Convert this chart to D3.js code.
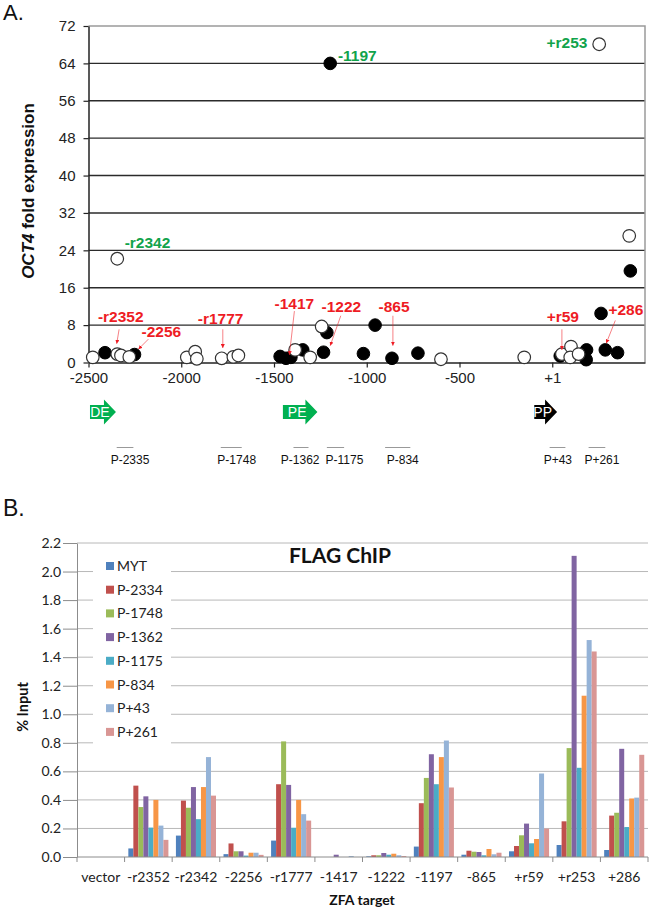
<!DOCTYPE html>
<html>
<head>
<meta charset="utf-8">
<script src="https://cdn.jsdelivr.net/npm/d3@7"></script>
<style>
  body { margin: 0; background: #fff; }
  svg { display: block; font-family: "Liberation Sans", Arial, sans-serif; }
</style>
</head>
<body>
<div id="chart"></div>
<script>
// ---------- panel A data (position vs OCT4 fold expression) ----------
const filledPoints = [
  [-2411, 2.1], [-2252, 1.7], [-1467, 1.3], [-1435, 0.9], [-1409, 1.1],
  [-1345, 2.7], [-1233, 2.2], [-1215, 6.4], [-1197, 64.0], [-1018, 1.9],
  [-955, 8.0], [-864, 0.9], [-724, 2.0], [43, 1.4], [165, 1.7],
  [185, 2.7], [183, 0.6], [263, 10.5], [286, 2.7], [352, 2.1], [421, 19.6]
];
const openPoints = [
  [-2477, 1.1], [-2345, 22.2], [-2345, 1.8], [-2325, 1.5], [-2280, 1.2],
  [-1970, 1.1], [-1925, 2.3], [-1916, 0.8], [-1782, 0.9], [-1719, 1.2],
  [-1692, 1.5], [-1386, 2.7], [-1305, 1.1], [-1243, 7.7], [-600, 0.7],
  [-151, 1.1], [52, 1.8], [101, 3.4], [97, 1.1], [142, 1.8],
  [253, 68.1], [415, 27.1]
];
const xTicksA = [-2500, -2000, -1500, -1000, -500, 0];
const xTickLabelsA = ['-2500', '-2000', '-1500', '-1000', '-500', '+1'];
const yTicksA = [0, 8, 16, 24, 32, 40, 48, 56, 64, 72];

// labels: text, x, baseline y (data units)
const greenLabels = [
  ['-1197', -1051, 64.5],
  ['+r253', 79, 67.3],
  ['-r2342', -2182, 24.5]
];
const redLabels = [
  ['-r2352', -2326, 8.7],
  ['-2256', -2107, 5.5],
  ['-r1777', -1788, 8.3],
  ['-1417', -1390, 11.5],
  ['-1222', -1137, 10.9],
  ['-865', -853, 10.9],
  ['+r59', 57, 8.75],
  ['+286', 397, 10.2]
];
// pointer arrows [x1, y1, x2, y2]
const labelArrows = [
  [-2335, 7.1, -2348, 4.0],
  [-2177, 5.0, -2231, 2.85],
  [-1776, 7.1, -1776, 3.1],
  [-1390, 11.0, -1417, 1.6],
  [-1140, 10.0, -1197, 3.6],
  [-859, 10.0, -859, 3.6],
  [52, 7.1, 52, 2.7],
  [340, 9.0, 291, 4.1]
];
const elementNames = ['DE', 'PE', 'PP'];
const elementStart = [-2492, -1452, -97];
const elementEnd = [-2352, -1266, 26];

const primerNames = ['P-2335', 'P-1748', 'P-1362', 'P-1175', 'P-834', 'P+43', 'P+261'];
const primerStart = [-2348, -1787, -1395, -1215, -901, -14, 196];
const primerEnd = [-2258, -1674, -1314, -1122, -765, 71, 286];
const primerLabelX = [-2276, -1701, -1359, -1120, -806, 30, 268];

// ---------- panel B data (FLAG ChIP, % input) ----------
const categories = ['vector', '-r2352', '-r2342', '-2256', '-r1777', '-1417', '-1222', '-1197', '-865', '+r59', '+r253', '+286'];
const seriesNames = ['MYT', 'P-2334', 'P-1748', 'P-1362', 'P-1175', 'P-834', 'P+43', 'P+261'];
const seriesColors = ['#4f81bd', '#c0504d', '#9bbb59', '#8064a2', '#4bacc6', '#f79646', '#95b3d7', '#d99694'];
const myt   = [0, 0.06, 0.15, 0.02, 0.115, 0, 0.005, 0.073, 0.016, 0.04, 0.084, 0.049];
const p2334 = [0, 0.50, 0.395, 0.095, 0.51, 0, 0.012, 0.377, 0.044, 0.077, 0.25, 0.29];
const p1748 = [0, 0.35, 0.345, 0.04, 0.81, 0, 0.012, 0.554, 0.037, 0.152, 0.763, 0.31];
const p1362 = [0, 0.425, 0.49, 0.04, 0.505, 0.016, 0.028, 0.72, 0.035, 0.234, 2.11, 0.758];
const p1175 = [0, 0.206, 0.265, 0.01, 0.205, 0, 0.016, 0.51, 0.012, 0.096, 0.625, 0.21];
const p834  = [0, 0.40, 0.49, 0.03, 0.40, 0, 0.023, 0.70, 0.056, 0.126, 1.13, 0.41];
const p43   = [0, 0.22, 0.70, 0.03, 0.30, 0.007, 0.012, 0.816, 0.019, 0.585, 1.52, 0.416];
const p261  = [0, 0.12, 0.43, 0.015, 0.255, 0, 0.007, 0.487, 0.03, 0.199, 1.44, 0.716];
const seriesValues = [myt, p2334, p1748, p1362, p1175, p834, p43, p261];
const yTicksB = d3.range(0, 2.21, 0.2);

const RED = '#ee1c24';
const GREEN = '#11a34b';
const CAL = 'Lato, "Open Sans", sans-serif';

const svg = d3.select('#chart').append('svg')
  .attr('width', 649)
  .attr('height', 908);

svg.append('defs').append('marker')
  .attr('id', 'ah')
  .attr('viewBox', '0 0 10 10')
  .attr('refX', 10).attr('refY', 5)
  .attr('markerWidth', 5).attr('markerHeight', 5)
  .attr('orient', 'auto')
  .append('path').attr('d', 'M0,0 L10,5 L0,10 z').attr('fill', RED);

// ================= PANEL A =================
const xA = d3.scaleLinear().domain([-2500, 500]).range([88.5, 645]);
const yA = d3.scaleLinear().domain([0, 72]).range([362.5, 26]);

svg.append('text').attr('x', 3).attr('y', 20)
  .attr('font-size', 22).attr('fill', '#111').text('A.');

const gA = svg.append('g');

gA.selectAll('line.grid')
  .data(yTicksA.filter(d => d > 0 && d < 72))
  .join('line')
  .attr('x1', xA(-2500)).attr('x2', xA(500))
  .attr('y1', d => yA(d)).attr('y2', d => yA(d))
  .attr('stroke', '#2b2b2b').attr('stroke-width', 1.4);

// top + right frame
gA.append('path')
  .attr('d', `M${xA(-2500)},${yA(72)}H${xA(500)}V${yA(0)}`)
  .attr('fill', 'none').attr('stroke', '#9a9a9a').attr('stroke-width', 1.5);

const yAxisA = gA.append('g')
  .attr('transform', `translate(${xA(-2500)},0)`)
  .call(d3.axisLeft(yA).tickValues(yTicksA).tickSize(5).tickSizeOuter(0).tickPadding(8));
const xAxisA = gA.append('g')
  .attr('transform', `translate(0,${yA(0)})`)
  .call(d3.axisBottom(xA).tickValues(xTicksA).tickFormat((d, i) => xTickLabelsA[i])
    .tickSize(5).tickSizeOuter(0).tickPadding(5));
[yAxisA, xAxisA].forEach(ax => {
  ax.select('.domain').attr('stroke', '#222').attr('stroke-width', 1.5);
  ax.selectAll('.tick line').attr('stroke', '#222').attr('stroke-width', 1.2);
  ax.selectAll('.tick text').attr('font-size', 15).attr('fill', '#222')
    .attr('font-family', '"Liberation Sans", Arial, sans-serif');
});

// y title
const yTitle = svg.append('text')
  .attr('transform', 'translate(34,191) rotate(-90)')
  .attr('text-anchor', 'middle')
  .attr('font-size', 17).attr('font-weight', 'bold').attr('fill', '#111');
yTitle.append('tspan').attr('font-style', 'italic').text('OCT4');
yTitle.append('tspan').text(' fold expression');

// points
gA.selectAll('circle.filled').data(filledPoints).join('circle')
  .attr('cx', d => xA(d[0])).attr('cy', d => yA(d[1])).attr('r', 6.3)
  .attr('fill', '#000').attr('stroke', '#000').attr('stroke-width', 1);
gA.selectAll('circle.open').data(openPoints).join('circle')
  .attr('cx', d => xA(d[0])).attr('cy', d => yA(d[1])).attr('r', 6.3)
  .attr('fill', '#fff').attr('stroke', '#333').attr('stroke-width', 1.2);

// labels
gA.selectAll('text.green').data(greenLabels).join('text')
  .attr('x', d => xA(d[1])).attr('y', d => yA(d[2]))
  .attr('text-anchor', 'middle').attr('font-size', 15.5).attr('font-weight', 'bold')
  .attr('fill', GREEN).text(d => d[0]);
gA.selectAll('text.red').data(redLabels).join('text')
  .attr('x', d => xA(d[1])).attr('y', d => yA(d[2]))
  .attr('text-anchor', 'middle').attr('font-size', 15.5).attr('font-weight', 'bold')
  .attr('fill', RED).text(d => d[0]);
gA.selectAll('line.ptr').data(labelArrows).join('line')
  .attr('x1', d => xA(d[0])).attr('y1', d => yA(d[1]))
  .attr('x2', d => xA(d[2])).attr('y2', d => yA(d[3]))
  .attr('stroke', RED).attr('stroke-width', 0.8).attr('stroke-opacity', 0.7)
  .attr('marker-end', 'url(#ah)');

// promoter / enhancer block arrows
const ARW_Y = 412, BODY_H = 7, HEAD_H = 12.5, HEAD_L = 12;
elementNames.forEach((name, i) => {
  const x0 = xA(elementStart[i]), x1 = xA(elementEnd[i]), xh = x1 - HEAD_L;
  const fill = name === 'PP' ? '#000' : '#00b050';
  svg.append('path')
    .attr('d', `M${x0},${ARW_Y - BODY_H}H${xh}V${ARW_Y - HEAD_H}L${x1},${ARW_Y}L${xh},${ARW_Y + HEAD_H}V${ARW_Y + BODY_H}H${x0}Z`)
    .attr('fill', fill);
  svg.append('text')
    .attr('x', (x0 + x1) / 2 - 3).attr('y', ARW_Y + 5)
    .attr('text-anchor', 'middle').attr('font-size', 14).attr('fill', '#fff')
    .text(name);
});

// primer amplicons
svg.selectAll('line.primer').data(primerNames).join('line')
  .attr('x1', (d, i) => xA(primerStart[i])).attr('x2', (d, i) => xA(primerEnd[i]))
  .attr('y1', 447.5).attr('y2', 447.5)
  .attr('stroke', '#999').attr('stroke-width', 1);
svg.selectAll('text.primer').data(primerNames).join('text')
  .attr('x', (d, i) => xA(primerLabelX[i])).attr('y', 463.5)
  .attr('text-anchor', 'middle').attr('font-size', 12).attr('fill', '#111')
  .text(d => d);

// ================= PANEL B =================
const xB = d3.scaleBand().domain(categories).range([77, 648]);
const xSub = d3.scaleBand().domain(seriesNames).range([0, xB.bandwidth()]).paddingOuter(0.75);
const yB = d3.scaleLinear().domain([0, 2.2]).range([857, 543]);

svg.append('text').attr('x', 3).attr('y', 516)
  .attr('font-size', 23).attr('fill', '#111').text('B.');

const gB = svg.append('g');

gB.selectAll('line.grid').data(yTicksB.slice(1)).join('line')
  .attr('x1', 77).attr('x2', 648)
  .attr('y1', d => yB(d)).attr('y2', d => yB(d))
  .attr('stroke', '#b8b8b8').attr('stroke-width', 1);

const yAxisB = gB.append('g').attr('transform', 'translate(77,0)')
  .call(d3.axisLeft(yB).tickValues(yTicksB).tickFormat(d3.format('.1f'))
    .tickSize(14).tickSizeOuter(0).tickPadding(2));
yAxisB.select('.domain').attr('stroke', '#8c8c8c');
yAxisB.selectAll('.tick line').attr('stroke', '#8c8c8c');
yAxisB.selectAll('.tick text').attr('font-family', CAL).attr('font-size', 14).attr('fill', '#222');

// bars
seriesNames.forEach((s, si) => {
  gB.append('g').selectAll('rect').data(seriesValues[si]).join('rect')
    .attr('x', (d, i) => xB(categories[i]) + xSub(s))
    .attr('width', xSub.bandwidth())
    .attr('y', d => yB(d))
    .attr('height', d => yB(0) - yB(d))
    .attr('fill', seriesColors[si]);
});

// x axis B
gB.append('line').attr('x1', 77).attr('x2', 648).attr('y1', yB(0)).attr('y2', yB(0))
  .attr('stroke', '#8c8c8c');
gB.selectAll('line.ctick').data(d3.range(categories.length + 1)).join('line')
  .attr('x1', i => 77 + i * xB.step()).attr('x2', i => 77 + i * xB.step())
  .attr('y1', yB(0)).attr('y2', yB(0) + 5)
  .attr('stroke', '#8c8c8c');
gB.selectAll('text.cat').data(categories).join('text')
  .attr('x', d => xB(d) + xB.bandwidth() / 2).attr('y', 882)
  .attr('text-anchor', 'middle').attr('font-family', CAL).attr('font-size', 14)
  .attr('fill', '#222').text(d => d);

// axis titles
svg.append('text').attr('x', 362).attr('y', 905)
  .attr('text-anchor', 'middle').attr('font-family', CAL).attr('font-size', 14)
  .attr('font-weight', 'bold').attr('fill', '#111').text('ZFA target');
svg.append('text').attr('transform', 'translate(28,707) rotate(-90)')
  .attr('text-anchor', 'middle').attr('font-family', CAL).attr('font-size', 14.5)
  .attr('font-weight', 'bold').attr('fill', '#111').text('% Input');

// chart title
svg.append('text').attr('x', 340).attr('y', 563)
  .attr('text-anchor', 'middle').attr('font-family', CAL).attr('font-size', 21)
  .attr('font-weight', 'bold').attr('fill', '#111').text('FLAG ChIP');

// legend
const legend = gB.append('g');
legend.append('rect').attr('x', 93).attr('y', 552).attr('width', 78).attr('height', 192)
  .attr('fill', '#fff');
seriesNames.forEach((s, i) => {
  const cy = 566 + i * 23.7;
  legend.append('rect').attr('x', 106).attr('y', cy - 4).attr('width', 8).attr('height', 8)
    .attr('fill', seriesColors[i]);
  legend.append('text').attr('x', 117).attr('y', cy + 5)
    .attr('font-family', CAL).attr('font-size', 14).attr('fill', '#222').text(s);
});
</script>
</body>
</html>
